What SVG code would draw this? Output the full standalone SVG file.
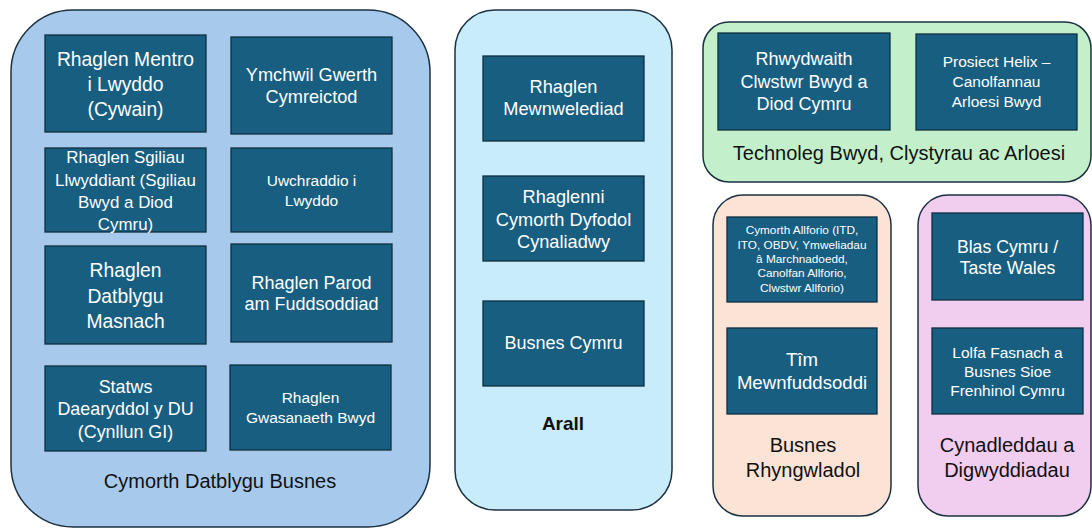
<svg xmlns="http://www.w3.org/2000/svg" width="1092" height="529" viewBox="0 0 1092 529">
<style>
.grp{stroke:#1b3140;stroke-width:1.5}
.box{fill:#175e80;stroke:#0f2f40;stroke-width:1.3}
.t{font-family:"Liberation Sans",Arial,sans-serif;fill:#fff;text-anchor:middle}
.l{font-family:"Liberation Sans",Arial,sans-serif;fill:#111;text-anchor:middle}
</style>
<rect width="1092" height="529" fill="#fff"/>
<g id="grp-cymorth">
<rect class="grp" x="11" y="10" width="419" height="517" rx="62" fill="#a7caec"/>
<text class="l" x="220" y="488" font-size="20">Cymorth Datblygu Busnes</text>
</g>
<g id="grp-arall">
<rect class="grp" x="455" y="10" width="217" height="500" rx="40" fill="#c9ecfb"/>
<text class="l" x="563" y="430" font-size="19" font-weight="bold">Arall</text>
</g>
<g id="grp-technoleg">
<rect class="grp" x="703" y="22" width="388" height="160" rx="26" fill="#c3f0ca"/>
<text class="l" x="899" y="160" font-size="20">Technoleg Bwyd, Clystyrau ac Arloesi</text>
</g>
<g id="grp-busnes-rhyngwladol">
<rect class="grp" x="713" y="195" width="178" height="321" rx="30" fill="#fbe3d6"/>
<text class="l" font-size="20"><tspan x="803" y="452">Busnes</tspan><tspan x="803" y="477">Rhyngwladol</tspan></text>
</g>
<g id="grp-cynadleddau">
<rect class="grp" x="918" y="195" width="173" height="321" rx="30" fill="#f1cdef"/>
<text class="l" font-size="20"><tspan x="1007" y="452">Cynadleddau a</tspan><tspan x="1007" y="477">Digwyddiadau</tspan></text>
</g>

<g id="n1"><rect class="box" x="45" y="35" width="161" height="97"/>
<text class="t" font-size="19.3"><tspan x="125.5" y="66">Rhaglen Mentro</tspan><tspan x="125.5" y="91">i Lwyddo</tspan><tspan x="125.5" y="116">(Cywain)</tspan></text></g>
<g id="n2"><rect class="box" x="231" y="37" width="161" height="97"/>
<text class="t" font-size="18.2"><tspan x="311.5" y="81">Ymchwil Gwerth</tspan><tspan x="311.5" y="103">Cymreictod</tspan></text></g>
<g id="n3"><rect class="box" x="45" y="148" width="161" height="84"/>
<text class="t" font-size="16.9"><tspan x="125.5" y="163">Rhaglen Sgiliau</tspan><tspan x="125.5" y="186">Llwyddiant (Sgiliau</tspan><tspan x="125.5" y="208">Bwyd a Diod</tspan><tspan x="125.5" y="230">Cymru)</tspan></text></g>
<g id="n4"><rect class="box" x="231" y="148" width="161" height="84"/>
<text class="t" font-size="15.5"><tspan x="311.5" y="186">Uwchraddio i</tspan><tspan x="311.5" y="206">Lwyddo</tspan></text></g>
<g id="n5"><rect class="box" x="45" y="246" width="161" height="98"/>
<text class="t" font-size="19.3"><tspan x="125.5" y="277">Rhaglen</tspan><tspan x="125.5" y="303">Datblygu</tspan><tspan x="125.5" y="328">Masnach</tspan></text></g>
<g id="n6"><rect class="box" x="231" y="244" width="161" height="98"/>
<text class="t" font-size="18"><tspan x="311.5" y="289">Rhaglen Parod</tspan><tspan x="311.5" y="310">am Fuddsoddiad</tspan></text></g>
<g id="n7"><rect class="box" x="45" y="366" width="161" height="85"/>
<text class="t" font-size="17.9"><tspan x="125.5" y="393">Statws</tspan><tspan x="125.5" y="415">Daearyddol y DU</tspan><tspan x="125.5" y="438">(Cynllun GI)</tspan></text></g>
<g id="n8"><rect class="box" x="230" y="365" width="161" height="85"/>
<text class="t" font-size="15.5"><tspan x="310.5" y="403">Rhaglen</tspan><tspan x="310.5" y="423">Gwasanaeth Bwyd</tspan></text></g>

<g id="n9"><rect class="box" x="483" y="56" width="161" height="85"/>
<text class="t" font-size="18.2"><tspan x="563.5" y="93">Rhaglen</tspan><tspan x="563.5" y="115">Mewnwelediad</tspan></text></g>
<g id="n10"><rect class="box" x="483" y="176" width="161" height="85"/>
<text class="t" font-size="18.2"><tspan x="563.5" y="203">Rhaglenni</tspan><tspan x="563.5" y="226">Cymorth Dyfodol</tspan><tspan x="563.5" y="248">Cynaliadwy</tspan></text></g>
<g id="n11"><rect class="box" x="483" y="301" width="161" height="85"/>
<text class="t" font-size="18"><tspan x="563.5" y="349">Busnes Cymru</tspan></text></g>

<g id="n12"><rect class="box" x="718" y="33" width="172" height="97"/>
<text class="t" font-size="18"><tspan x="804" y="65">Rhwydwaith</tspan><tspan x="804" y="88">Clwstwr Bwyd a</tspan><tspan x="804" y="110">Diod Cymru</tspan></text></g>
<g id="n13"><rect class="box" x="916" y="34" width="161" height="96"/>
<text class="t" font-size="15.5"><tspan x="996.5" y="67">Prosiect Helix –</tspan><tspan x="996.5" y="87">Canolfannau</tspan><tspan x="996.5" y="107">Arloesi Bwyd</tspan></text></g>

<g id="n14"><rect class="box" x="727" y="217" width="150" height="85"/>
<text class="t" font-size="11.8"><tspan x="802" y="234">Cymorth Allforio (ITD,</tspan><tspan x="802" y="249">ITO, OBDV, Ymweliadau</tspan><tspan x="802" y="263">â Marchnadoedd,</tspan><tspan x="802" y="277">Canolfan Allforio,</tspan><tspan x="802" y="292">Clwstwr Allforio)</tspan></text></g>
<g id="n15"><rect class="box" x="727" y="328" width="150" height="86"/>
<text class="t" font-size="18.6"><tspan x="802" y="366">Tîm</tspan><tspan x="802" y="389">Mewnfuddsoddi</tspan></text></g>

<g id="n16"><rect class="box" x="932" y="213" width="151" height="87"/>
<text class="t" font-size="17.7"><tspan x="1007.5" y="253">Blas Cymru /</tspan><tspan x="1007.5" y="274">Taste Wales</tspan></text></g>
<g id="n17"><rect class="box" x="932" y="328" width="151" height="86"/>
<text class="t" font-size="15.5"><tspan x="1007.5" y="358">Lolfa Fasnach a</tspan><tspan x="1007.5" y="377">Busnes Sioe</tspan><tspan x="1007.5" y="396">Frenhinol Cymru</tspan></text></g>

<g id="connectors"></g>
</svg>
